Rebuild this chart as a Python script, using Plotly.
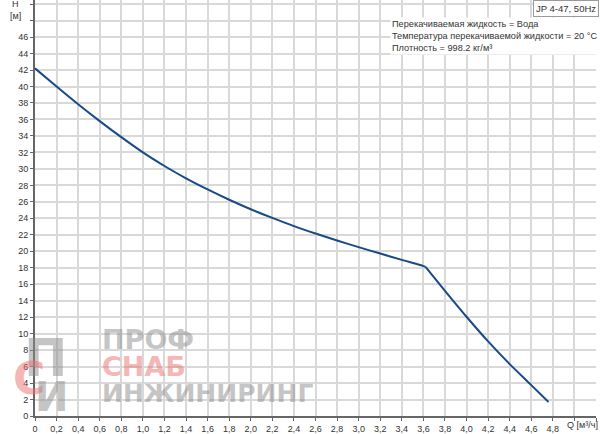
import plotly.graph_objects as go

# Pump curve data (Q in m3/h, H in m)
q_upper = [0.0, 0.2, 0.4, 0.6, 0.8, 1.0, 1.2, 1.4, 1.6, 1.8, 2.0, 2.2, 2.4,
           2.6, 2.8, 3.0, 3.2, 3.4, 3.6, 3.62]
h_upper = [42.2, 40.0, 37.85, 35.8, 33.85, 32.0, 30.35, 28.85, 27.5, 26.25, 25.1, 24.05, 23.05,
           22.15, 21.3, 20.5, 19.72, 18.95, 18.2, 18.1]
q_lower = [3.62, 3.8, 4.0, 4.2, 4.4, 4.6, 4.76]
h_lower = [18.1, 15.2, 12.05, 9.05, 6.3, 3.75, 1.7]

x_tickvals = [round(i * 0.2, 1) for i in range(27)]
x_ticktext = [("0" if v == 0 else f"{v:.1f}".replace(".", ",")) if v <= 4.8 else "" for v in x_tickvals]
y_tickvals = list(range(0, 51, 2))
y_ticktext = [str(v) if v <= 46 else "" for v in y_tickvals]

FONT = "Arial, Liberation Sans, sans-serif"
LINE = dict(color="#184a88", width=2, shape="spline", smoothing=0.6)

fig = go.Figure()
fig.add_trace(go.Scatter(x=q_upper, y=h_upper, mode="lines", line=LINE, hoverinfo="skip"))
fig.add_trace(go.Scatter(x=q_lower, y=h_lower, mode="lines", line=LINE, hoverinfo="skip"))

fig.update_layout(
    width=600, height=434,
    margin=dict(l=35, r=4, t=0, b=16),
    paper_bgcolor="white", plot_bgcolor="white",
    showlegend=False,
    font=dict(family=FONT, size=9, color="#333"),
    xaxis=dict(range=[0, 5.2], tickvals=x_tickvals, ticktext=x_ticktext,
               showgrid=True, gridcolor="#d9d9d9", gridwidth=1.5,
               showline=True, linecolor="#666", linewidth=2,
               ticks="outside", ticklen=3, tickcolor="#666",
               tickfont=dict(size=9, color="#333"), zeroline=False),
    yaxis=dict(range=[0, 50.5], tickvals=y_tickvals, ticktext=y_ticktext,
               showgrid=True, gridcolor="#d9d9d9", gridwidth=1.5,
               showline=True, linecolor="#666", linewidth=2,
               ticks="outside", ticklen=3, tickcolor="#666",
               tickfont=dict(size=9, color="#333"), zeroline=False),
)

ann = []
ann.append(dict(text="H", xref="paper", yref="paper", x=-0.035, y=0.99,
                xanchor="center", yanchor="middle", showarrow=False,
                font=dict(size=9, color="#333", family=FONT)))
ann.append(dict(text="[м]", xref="paper", yref="paper", x=-0.035, y=0.962,
                xanchor="center", yanchor="middle", showarrow=False,
                font=dict(size=9, color="#333", family=FONT)))
ann.append(dict(text="Q [м³/ч]", xref="paper", yref="paper", x=1.008, y=-0.022,
                xanchor="right", yanchor="middle", showarrow=False,
                font=dict(size=9, color="#333", family=FONT)))
ann.append(dict(text="JP 4-47, 50Hz", xref="paper", yref="paper", x=1.006, y=1.0,
                xanchor="right", yanchor="top", showarrow=False,
                bgcolor="white", bordercolor="#999", borderwidth=1, borderpad=2,
                font=dict(size=9.5, color="#333", family=FONT)))
ann.append(dict(text="Перекачиваемая жидкость = Вода<br>Температура перекачиваемой жидкости = 20 °C<br>Плотность = 998.2 кг/м³",
                xref="paper", yref="paper", x=0.632, y=0.958,
                xanchor="left", yanchor="top", align="left", showarrow=False,
                bgcolor="white", borderpad=1,
                font=dict(size=9.2, color="#333", family=FONT)))

# watermark
wm_gray = "rgba(140,140,140,0.5)"
wm_pink = "rgba(235,110,110,0.5)"
WMF = "DejaVu Sans, sans-serif"
ann.append(dict(text="<b>ПРОФ</b>", xref="paper", yref="paper", x=0.115, y=0.185,
                xanchor="left", yanchor="middle", showarrow=False,
                font=dict(size=27, color=wm_gray, family=WMF)))
ann.append(dict(text="<b>СНАБ</b>", xref="paper", yref="paper", x=0.115, y=0.12,
                xanchor="left", yanchor="middle", showarrow=False,
                font=dict(size=27, color=wm_pink, family=WMF)))
ann.append(dict(text="<b>ИНЖИНИРИНГ</b>", xref="paper", yref="paper", x=0.115, y=0.055,
                xanchor="left", yanchor="middle", showarrow=False,
                font=dict(size=25, color=wm_gray, family=WMF)))
ann.append(dict(text="<b>П</b>", xref="paper", yref="paper", x=0.02, y=0.14,
                xanchor="center", yanchor="middle", showarrow=False,
                font=dict(size=52, color=wm_gray, family=WMF)))
ann.append(dict(text="<b>С</b>", xref="paper", yref="paper", x=-0.01, y=0.09,
                xanchor="center", yanchor="middle", showarrow=False,
                font=dict(size=44, color=wm_pink, family=WMF)))
ann.append(dict(text="<b>И</b>", xref="paper", yref="paper", x=0.03, y=0.045,
                xanchor="center", yanchor="middle", showarrow=False,
                font=dict(size=40, color=wm_gray, family=WMF)))
fig.update_layout(annotations=ann)

fig.write_html("out.html", config={"displayModeBar": False},
               post_script="document.body.style.margin='0';document.body.style.overflow='hidden';")
